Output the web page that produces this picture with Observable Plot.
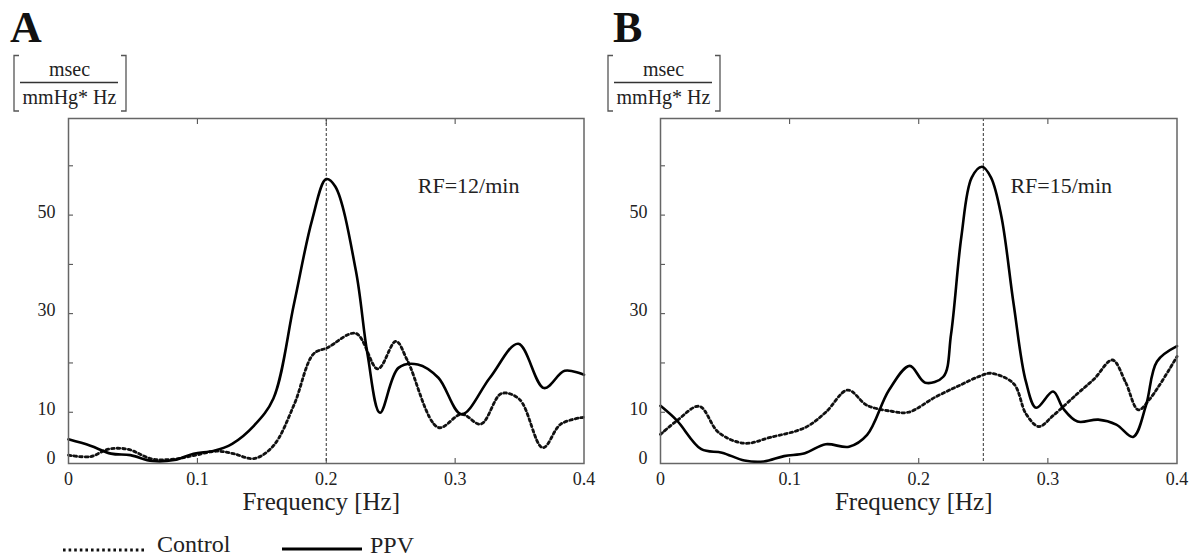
<!DOCTYPE html>
<html><head><meta charset="utf-8">
<script src="https://cdn.jsdelivr.net/npm/d3@7"></script>
<script src="https://cdn.jsdelivr.net/npm/@observablehq/plot@0.6"></script>
<style>
body{margin:0;background:#fff;}
#wrap{position:relative;width:1190px;height:557px;overflow:hidden;font-family:"Liberation Serif","Times New Roman",serif;background:#fff;}
#wrap > svg{position:absolute;top:0;margin:0;}
</style></head><body><div id="wrap"></div>
<script>
// ---- Panel A (RF = 12/min) ----
const freqA_ppv = [0,0.017,0.033,0.048,0.065,0.082,0.097,0.113,0.127,0.144,0.159,0.175,0.189,0.2,0.207,0.223,0.232,0.2417,0.256,0.271,0.287,0.305,0.327,0.349,0.369,0.385,0.4];
const ppvA      = [4.5,3.2,1.6,1.3,0.1,0.3,1.6,2.2,3.6,7.3,12.8,32,49,57.3,55.8,38.7,21.8,9.9,19,19.7,17,9.6,17,23.9,14.9,18.4,17.6];
const freqA_ctl = [0,0.017,0.031,0.046,0.065,0.082,0.097,0.115,0.128,0.144,0.159,0.175,0.19,0.201,0.223,0.24,0.254,0.263,0.287,0.305,0.32,0.336,0.35,0.368,0.382,0.4];
const controlA  = [1.3,1.0,2.5,2.5,0.5,0.5,1.2,2.1,1.6,0.6,3.2,11.5,21.8,23.1,26,18.8,24.4,20.5,6.9,9.6,7.6,13.8,12.6,2.8,7.6,9];

// ---- Panel B (RF = 15/min) ----
const freqB_ppv = [0,0.0128,0.0316,0.0476,0.065,0.08,0.0957,0.1118,0.128,0.146,0.16,0.177,0.193,0.205,0.219,0.225,0.233,0.241,0.249,0.256,0.264,0.2735,0.283,0.291,0.304,0.312,0.323,0.339,0.353,0.366,0.376,0.3845,0.4];
const ppvB      = [11.3,8.3,2.5,1.8,0.2,0,1.1,1.7,3.5,3.0,5.4,14.5,19.4,16,17.2,25.8,45.6,57.6,59.8,57.6,49.7,31.9,16.2,10.9,14.2,10.7,8.1,8.5,7.5,5,11.4,20.3,23.4];
const freqB_ctl = [0,0.0128,0.03,0.045,0.065,0.085,0.112,0.128,0.145,0.16,0.179,0.192,0.213,0.232,0.248,0.256,0.2735,0.283,0.293,0.304,0.323,0.336,0.35,0.36,0.37,0.379,0.4];
const controlB  = [5.5,8.3,11.2,5.9,3.7,4.9,6.9,10,14.5,11.4,10.2,10,13.1,15.5,17.4,17.9,15.8,9.7,7.1,9.3,13.8,16.8,20.6,16.2,10.5,12.7,21.3];

// ---- labels / ticks ----
const panelLetters = ["A","B"];
const rfLabels = ["RF=12/min","RF=15/min"];
const respFreq = [0.2, 0.25];
const xTicks = [0,0.1,0.2,0.3,0.4];
const xTickLabels = ["0","0.1","0.2","0.3","0.4"];
const xInnerTicks = [0.1,0.2,0.3];
const yLabelTicks = [0,10,30,50];
const yMarkTicks = [10,20,30,40,50,60];
const xTitle = "Frequency [Hz]";
const unitNum = "msec";
const unitDen = "mmHg* Hz";
const legendNames = ["Control","PPV"];

const FONT = '"Liberation Serif", "Times New Roman", serif';
const DOT = "2.6,3";

function makePanel(k, fp, vp, fc, vc, width, marginRight){
  const ppv = fp.map((f,i)=>({f, v: vp[i]}));
  const ctl = fc.map((f,i)=>({f, v: vc[i]}));
  const rf = [{f: 0.271, v: 56, label: rfLabels[k]}];
  return Plot.plot({
    width, height: 557,
    marginLeft: 68, marginRight, marginTop: 118, marginBottom: 94,
    style: {fontFamily: FONT, background: "transparent", color: "#222", overflow: "visible"},
    x: {domain: [0, 0.4]},
    y: {domain: [-0.4, 69.6]},
    marks: [
      Plot.ruleX([respFreq[k]], {stroke: "#333", strokeWidth: 1, strokeDasharray: "3,2"}),
      Plot.axisX(xInnerTicks, {anchor: "bottom", tickSize: -5, text: null, label: null, stroke: "#444"}),
      Plot.axisX(xInnerTicks, {anchor: "top", tickSize: -5, text: null, label: null, stroke: "#444"}),
      Plot.axisX(xTicks, {anchor: "bottom", tickSize: 0, tickPadding: 9, fontSize: 18, label: null,
        tickFormat: d => xTickLabels[xTicks.indexOf(d)]}),
      Plot.axisY(yMarkTicks, {anchor: "left", tickSize: -5, text: null, label: null, stroke: "#444"}),
      Plot.axisY(yLabelTicks, {anchor: "left", tickSize: 0, tickPadding: 13, fontSize: 18, dy: -3, label: null,
        tickFormat: d => String(d)}),
      Plot.lineY(ctl, {x: "f", y: "v", curve: "catmull-rom", stroke: "#111", strokeWidth: 2.8, strokeDasharray: DOT}),
      Plot.lineY(ppv, {x: "f", y: "v", curve: "catmull-rom", stroke: "#000", strokeWidth: 2.6}),
      Plot.text(rf, {x: "f", y: "v", text: "label", textAnchor: "start", fontSize: 22, fill: "#222", fontFamily: FONT}),
      Plot.text([xTitle], {frameAnchor: "bottom", dy: 46, dx: -5, fontSize: 25, fill: "#222", fontFamily: FONT}),
      Plot.frame({stroke: "#666", strokeWidth: 1.5})
    ]
  });
}

const wrap = document.getElementById("wrap");
const svgA = makePanel(0, freqA_ppv, ppvA, freqA_ctl, controlA, 592, 8.5);
svgA.style.left = "0px";
wrap.appendChild(svgA);
const svgB = makePanel(1, freqB_ppv, ppvB, freqB_ctl, controlB, 598, 13.5);
svgB.style.left = "592px";
wrap.appendChild(svgB);

// ---- overlay: panel letters, unit boxes, legend ----
const ov = d3.select(wrap).append("svg")
  .attr("width", 1190).attr("height", 557)
  .style("left", "0px").style("pointer-events", "none")
  .style("font-family", FONT).attr("fill", "#222");

const letterX = [10, 613];
const unitOffset = [0, 594];
panelLetters.forEach((L, k) => {
  ov.append("text").attr("x", letterX[k]).attr("y", 42).attr("font-size", 44).attr("font-weight", "bold").attr("fill", "#111").text(L);
  const o = unitOffset[k];
  const g = ov.append("g").attr("transform", `translate(${o},0)`);
  g.append("path").attr("d", "M19,55.5H14V111H19").attr("fill", "none").attr("stroke", "#555").attr("stroke-width", 1.3);
  g.append("path").attr("d", "M121,55.5H126V111H121").attr("fill", "none").attr("stroke", "#555").attr("stroke-width", 1.3);
  g.append("text").attr("x", 69.5).attr("y", 76).attr("text-anchor", "middle").attr("font-size", 20).text(unitNum);
  g.append("line").attr("x1", 20).attr("x2", 118).attr("y1", 82.5).attr("y2", 82.5).attr("stroke", "#333").attr("stroke-width", 1.5);
  g.append("text").attr("x", 69.5).attr("y", 104).attr("text-anchor", "middle").attr("font-size", 20).text(unitDen);
});

// legend
ov.append("line").attr("x1", 63).attr("x2", 147).attr("y1", 550).attr("y2", 550)
  .attr("stroke", "#111").attr("stroke-width", 2.8).attr("stroke-dasharray", DOT);
ov.append("text").attr("x", 157).attr("y", 552).attr("font-size", 24).text(legendNames[0]);
ov.append("line").attr("x1", 282).attr("x2", 362).attr("y1", 549).attr("y2", 549)
  .attr("stroke", "#000").attr("stroke-width", 2.8);
ov.append("text").attr("x", 370).attr("y", 553).attr("font-size", 24).text(legendNames[1]);
</script>
</body></html>
